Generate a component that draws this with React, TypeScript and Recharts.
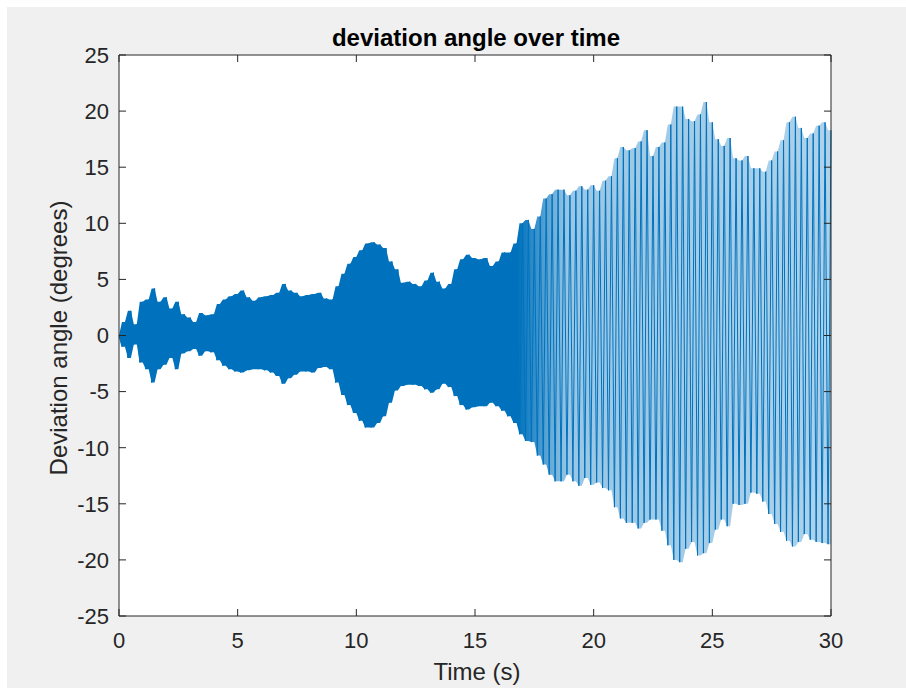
import {
  ComposedChart,
  Line,
  Area,
  XAxis,
  YAxis,
  CartesianGrid,
} from "recharts";

// envelope of the oscillation, every 0.25 s (degrees)
const STEP = 0.25;

const upperPeaks = [
  0, 1.2, 2.2, 1.0,
  3.0, 3.2, 4.2, 3.0,
  3.4, 2.4, 3.0, 1.9,
  1.6, 1.2, 2.0, 1.8,
  1.9, 2.8, 3.2, 3.5,
  3.7, 4.0, 3.4, 3.1,
  3.4, 3.5, 3.6, 3.8,
  4.6, 4.0, 3.8, 3.5,
  3.6, 3.7, 3.8, 3.3,
  3.2, 4.4, 5.5, 6.4,
  7.0, 7.6, 8.2, 8.3,
  8.1, 7.8, 6.6, 5.9,
  4.7, 4.8, 4.6, 4.4,
  4.9, 5.6, 4.8, 4.2,
  4.6, 5.9, 6.8, 7.2,
  6.9, 6.8, 6.9, 6.2,
  6.6, 7.4, 7.4, 8.2,
  10.0, 10.3, 9.5, 10.6,
  12.2, 12.6, 13.0, 13.0,
  12.5, 12.9, 13.3, 13.0,
  13.4, 12.9, 13.8, 14.2,
  15.8, 16.8, 16.5, 16.7,
  17.3, 18.3, 16.0, 16.8,
  17.2, 18.8, 20.4, 20.4,
  19.3, 19.1, 19.7, 20.8,
  19.0, 17.5, 16.9, 17.6,
  15.8, 15.6, 16.0, 14.9,
  14.9, 14.6, 15.6, 16.4,
  17.4, 19.0, 19.5, 18.5,
  17.6, 18.0, 18.7, 19.0,
  18.3,
];

const lowerPeaks = [
  0, -1.0, -2.0, -0.8,
  -2.4, -3.0, -4.2, -3.0,
  -2.6, -2.0, -3.0, -1.6,
  -1.4, -1.2, -1.8, -1.4,
  -1.5, -2.2, -2.7, -3.0,
  -3.2, -3.3, -3.1, -3.0,
  -3.0, -3.1, -3.3, -3.6,
  -4.3, -3.8, -3.5, -3.2,
  -3.2, -3.3, -2.9, -2.8,
  -3.0, -4.2, -5.3, -6.2,
  -6.9, -7.6, -8.2, -8.2,
  -7.8, -7.2, -6.0, -4.9,
  -4.5, -4.4, -4.4, -4.5,
  -4.8, -5.1, -4.8, -4.3,
  -4.6, -5.4, -6.2, -6.6,
  -6.4, -6.3, -6.3, -6.0,
  -6.3, -6.7, -7.2, -7.8,
  -8.8, -9.4, -9.5, -10.7,
  -11.5, -12.4, -13.0, -13.0,
  -12.4, -13.0, -13.4, -12.7,
  -13.3, -13.1, -13.6, -13.8,
  -15.3, -16.3, -16.7, -16.7,
  -17.2, -16.7, -16.4, -16.4,
  -17.4, -18.7, -20.0, -20.2,
  -19.0, -18.4, -19.6, -19.4,
  -18.5, -17.3, -16.4, -17.0,
  -15.0, -15.1, -15.0, -14.0,
  -14.1, -14.8, -15.9, -16.8,
  -17.5, -18.3, -18.8, -18.4,
  -17.7, -18.2, -18.4, -18.5,
  -18.6,
];

const timeTicks = [0, 5, 10, 15, 20, 25, 30];
const angleTicks = [-25, -20, -15, -10, -5, 0, 5, 10, 15, 20, 25];

// trace swings between the trough and the peak of each step
const rows: { t: number; angle: number; band: [number, number] }[] = [];
upperPeaks.forEach((hi, i) => {
  const lo = lowerPeaks[i];
  const t = i * STEP;
  if (i > 0) rows.push({ t: t - STEP / 2, angle: lo, band: [lo, hi] });
  rows.push({ t, angle: hi, band: [lo, hi] });
});

const FONT = '"Liberation Sans", Arial, Helvetica, sans-serif';
const INK = "#262626";
const BLUE = "#0072BD";
const TICK_LEN = 7;
const X_GAP = 16;
const Y_GAP = 10;

// matlab-style ticks: short marks pointing into the plot box
function BottomTick(props: any) {
  const { x, y, payload } = props;
  const axisY = y - X_GAP;
  return (
    <g>
      <line x1={x} y1={axisY} x2={x} y2={axisY - TICK_LEN} stroke={INK} />
      <text
        x={x}
        y={y}
        dy='0.71em'
        textAnchor='middle'
        fill={INK}
        fontSize={22}
        fontFamily={FONT}>
        {payload.value}
      </text>
    </g>
  );
}

function LeftTick(props: any) {
  const { x, y, payload } = props;
  const axisX = x + Y_GAP;
  return (
    <g>
      <line x1={axisX} y1={y} x2={axisX + TICK_LEN} y2={y} stroke={INK} />
      <text
        x={x}
        y={y}
        dy='0.355em'
        textAnchor='end'
        fill={INK}
        fontSize={22}
        fontFamily={FONT}>
        {payload.value}
      </text>
    </g>
  );
}

function TopTick(props: any) {
  const { x, y } = props;
  return <line x1={x} y1={y} x2={x} y2={y + TICK_LEN} stroke={INK} />;
}

function RightTick(props: any) {
  const { x, y } = props;
  return <line x1={x} y1={y} x2={x - TICK_LEN} y2={y} stroke={INK} />;
}

export default function App() {
  return (
    <div
      style={{
        position: "absolute",
        left: 0,
        top: 0,
        width: 906,
        height: 688,
        background: "#ffffff",
        fontFamily: FONT,
      }}>
      <div
        style={{
          position: "absolute",
          left: 7,
          top: 7,
          width: 899,
          height: 681,
          background: "#f0f0f0",
        }}
      />
      <div style={{ position: "absolute", left: 0, top: 0 }}>
        <ComposedChart
          width={906}
          height={688}
          data={rows}
          margin={{ top: 54, right: 74, left: 49, bottom: 32 }}>
          <defs>
            <linearGradient id='fade' x1='0' y1='0' x2='1' y2='0'>
              <stop offset='0' stopColor={BLUE} stopOpacity={1} />
              <stop offset='0.56' stopColor={BLUE} stopOpacity={1} />
              <stop offset='0.63' stopColor={BLUE} stopOpacity={0.4} />
              <stop offset='1' stopColor={BLUE} stopOpacity={0.32} />
            </linearGradient>
          </defs>
          <CartesianGrid
            fill='#ffffff'
            vertical={false}
            horizontal={false}
          />
          <Area
            xAxisId='top'
            yAxisId='right'
            dataKey='band'
            type='linear'
            stroke='none'
            fill='url(#fade)'
            fillOpacity={1}
            isAnimationActive={false}
          />
          <Line
            dataKey='angle'
            type='linear'
            stroke={BLUE}
            strokeWidth={1}
            dot={false}
            activeDot={false}
            isAnimationActive={false}
          />
          <XAxis
            dataKey='t'
            type='number'
            domain={[0, 30]}
            ticks={timeTicks}
            interval={0}
            height={40}
            tickSize={0}
            tickMargin={X_GAP}
            tickLine={false}
            axisLine={{ stroke: INK }}
            tick={BottomTick}
          />
          <XAxis
            xAxisId='top'
            orientation='top'
            dataKey='t'
            type='number'
            domain={[0, 30]}
            ticks={timeTicks}
            interval={0}
            height={1}
            tickSize={0}
            tickMargin={0}
            tickLine={false}
            axisLine={{ stroke: INK }}
            tick={TopTick}
          />
          <YAxis
            type='number'
            domain={[-25, 25]}
            ticks={angleTicks}
            interval={0}
            width={70}
            tickSize={0}
            tickMargin={Y_GAP}
            tickLine={false}
            axisLine={{ stroke: INK }}
            tick={LeftTick}
          />
          <YAxis
            yAxisId='right'
            orientation='right'
            type='number'
            domain={[-25, 25]}
            ticks={angleTicks}
            interval={0}
            width={1}
            tickSize={0}
            tickMargin={0}
            tickLine={false}
            axisLine={{ stroke: INK }}
            tick={RightTick}
          />
        </ComposedChart>
      </div>
      <div
        style={{
          position: "absolute",
          left: 276,
          top: 26,
          width: 400,
          textAlign: "center",
          fontSize: 24,
          lineHeight: "24px",
          fontWeight: "bold",
          color: "#000000",
        }}>
        deviation angle over time
      </div>
      <div
        style={{
          position: "absolute",
          left: 277,
          top: 660,
          width: 400,
          textAlign: "center",
          fontSize: 24,
          lineHeight: "24px",
          color: INK,
        }}>
        Time (s)
      </div>
      <div
        style={{
          position: "absolute",
          left: 59 - 200,
          top: 338 - 12,
          width: 400,
          textAlign: "center",
          fontSize: 24,
          lineHeight: "24px",
          color: INK,
          transform: "rotate(-90deg)",
        }}>
        Deviation angle (degrees)
      </div>
    </div>
  );
}
